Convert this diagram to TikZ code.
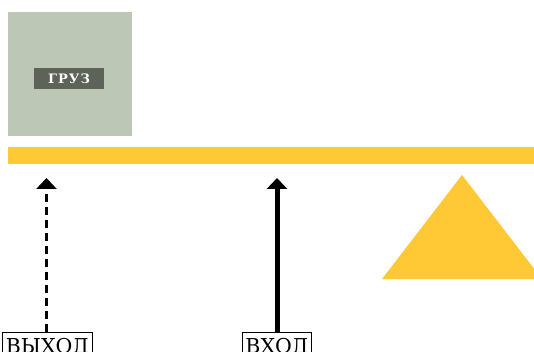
\documentclass[tikz,border=0pt]{standalone}
\usepackage{fontspec}
\setmainfont{DejaVu Serif}
\usetikzlibrary{arrows.meta}
\definecolor{cargo}{HTML}{BCC8B5}
\definecolor{cargotag}{HTML}{5E635A}
\definecolor{beam}{HTML}{FFC936}
\tikzset{
  portlabel/.style={draw=black, line width=0.8pt, fill=white, inner xsep=3pt, inner ysep=5pt,
    text height=16pt, text depth=0pt,
    font=\fontsize{20.5}{20.5}\selectfont, anchor=north},
  flow/.style={-{Triangle[width=20pt,length=11pt]}},
}
\begin{document}
\begin{tikzpicture}[x=1pt,y=-1pt]
  \useasboundingbox (0,0) rectangle (534,352);
  \clip (0,0) rectangle (534,352);

  % load block
  \node[fill=cargo, minimum width=124pt, minimum height=124pt, inner sep=0pt] (load) at (70,74) {};
  \node[fill=cargotag, text=white, minimum width=70pt, minimum height=21pt, inner sep=0pt,
        font=\fontsize{13}{13}\selectfont\bfseries\addfontfeatures{LetterSpace=8}] (tag) at (69,78.5) {ГРУЗ};

  % lever beam and fulcrum
  \fill[beam] (8,147) rectangle (540,164);
  \fill[beam] (462,175) -- (542,279) -- (382,279) -- cycle;

  % labels
  \node[portlabel, minimum width=89pt] (out) at (47.5,332) {ВЫХОД};
  \node[portlabel, minimum width=60pt] (in) at (277,332) {ВХОД};

  \coordinate (outtip) at (46.5,178);
  \coordinate (intip) at (277,178);

  % arrows
  \draw[flow, line width=3pt, dash pattern=on 8pt off 5pt] (outtip |- out.north) -- (outtip);
  \draw[flow, line width=5pt] (intip |- in.north) -- (intip);
\end{tikzpicture}
\end{document}
